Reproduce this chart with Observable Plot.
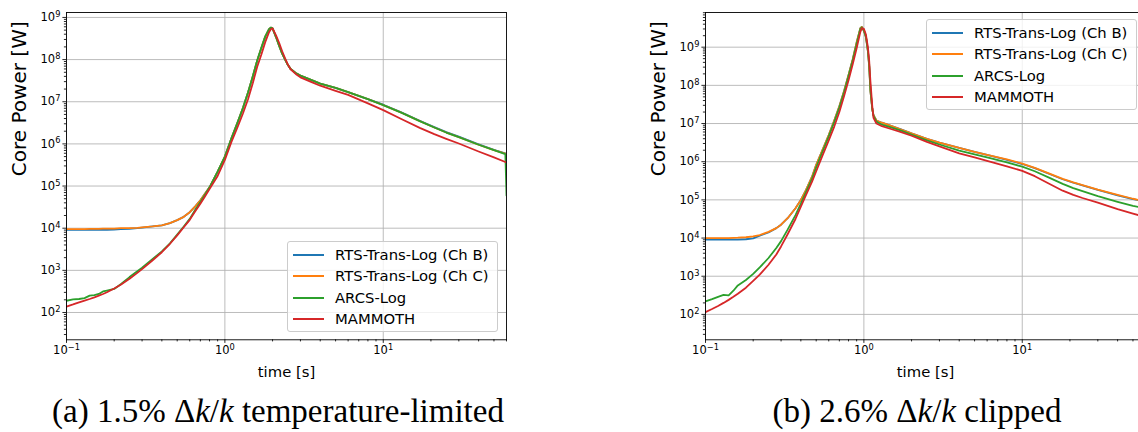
<!DOCTYPE html>
<html>
<head>
<meta charset="utf-8">
<script src="https://cdn.jsdelivr.net/npm/d3@7"></script>
<script src="https://cdn.jsdelivr.net/npm/@observablehq/plot@0.6"></script>
<style>
html, body { margin: 0; padding: 0; background: #fff; overflow: hidden; }
#wrap { position: relative; width: 1138px; height: 432px; overflow: hidden; background: #fff; }
.panel { position: absolute; top: 0; }
.panel svg { max-width: none !important; display: block; }
.legend { position: absolute; box-sizing: border-box; border: 1px solid #cccccc; border-radius: 3px;
  background: rgba(255,255,255,0.8); font-family: "DejaVu Sans"; font-size: 14.8px; color: #000; }
.legend .row { position: absolute; left: 0; height: 0; }
.legend .ln { position: absolute; left: 5px; width: 31px; height: 2px; top: -1px; }
.legend .tx { position: absolute; left: 47px; top: -9px; white-space: nowrap; line-height: 18px; }
.cap { position: absolute; font-family: "Liberation Serif"; font-size: 33px; white-space: nowrap;
  line-height: 40px; transform: translateX(-50%); color: #000; }
.cap i { font-style: italic; }
</style>
</head>
<body>
<div id="wrap"></div>
<script>
// ---------------- data ----------------
const seriesNames = ["RTS-Trans-Log (Ch B)", "RTS-Trans-Log (Ch C)", "ARCS-Log", "MAMMOTH"];
const seriesColors = ["#1f77b4", "#ff7f0e", "#2ca02c", "#d62728"];

// Panel (a): 1.5% dk/k temperature-limited
const timeA = [0.1, 0.11, 0.12, 0.13, 0.14, 0.15, 0.16, 0.17, 0.18, 0.2,
  0.22, 0.25, 0.28, 0.3, 0.35, 0.4, 0.45, 0.5, 0.55, 0.6,
  0.65, 0.7, 0.75, 0.8, 0.9, 1.0, 1.1, 1.2, 1.3, 1.4,
  1.5, 1.6, 1.7, 1.8, 1.9, 1.95, 2.0, 2.1, 2.2, 2.3,
  2.4, 2.5, 2.6, 2.8, 3.0, 3.5, 4, 5, 6, 8,
  10, 13, 17, 21, 25, 30, 40, 50, 59, 60];
const rtsChB_A = [9120, 9120, 9120, 9120, 9120, 9120, 9120, 9120, 9120, 9300,
  9500, 9700, 1.0e4, 1.03e4, 1.1e4, 1.17e4, 1.32e4, 1.55e4, 1.86e4, 2.4e4,
  3.31e4, 4.57e4, 6.61e4, 9.33e4, 2.19e5, 5.01e5, 1.35e6, 3.16e6, 7.08e6, 1.66e7,
  3.98e7, 9.55e7, 1.91e8, 3.55e8, 5.25e8, 5.75e8, 5.5e8, 3.47e8, 2.14e8, 1.38e8,
  1.0e8, 7.41e7, 6.03e7, 4.79e7, 4.17e7, 3.31e7, 2.69e7, 2.14e7, 1.7e7, 1.15e7,
  8.5e6, 5.6e6, 3.55e6, 2.5e6, 1.9e6, 1.48e6, 9.8e5, 7.25e5, 6.0e5, 5.9e5];
const rtsChC_A = [9550, 9550, 9550, 9550, 9660, 9660, 9660, 9770, 9770, 9770,
  1.0e4, 1.0e4, 1.02e4, 1.05e4, 1.1e4, 1.17e4, 1.32e4, 1.55e4, 1.86e4, 2.4e4,
  3.31e4, 4.57e4, 6.61e4, 9.33e4, 2.19e5, 5.01e5, 1.35e6, 3.16e6, 7.08e6, 1.66e7,
  3.98e7, 9.55e7, 1.91e8, 3.55e8, 5.25e8, 5.75e8, 5.5e8, 3.47e8, 2.14e8, 1.38e8,
  1.0e8, 7.41e7, 6.03e7, 4.79e7, 4.17e7, 3.31e7, 2.69e7, 2.14e7, 1.7e7, 1.15e7,
  8.32e6, 5.5e6, 3.47e6, 2.45e6, 1.86e6, 1.45e6, 9.55e5, 7.08e5, 5.89e5, 5.75e5];
const arcs_A = [190, 204, 209, 219, 251, 257, 275, 316, 331, 363,
  468, 692, 955, 1150, 1860, 2820, 4370, 7080, 1.1e4, 1.66e4,
  2.75e4, 4.17e4, 6.31e4, 9.33e4, 2.19e5, 5.01e5, 1.35e6, 3.16e6, 7.08e6, 1.66e7,
  3.98e7, 9.55e7, 1.91e8, 3.55e8, 5.25e8, 5.75e8, 5.5e8, 3.47e8, 2.14e8, 1.38e8,
  1.0e8, 7.41e7, 6.03e7, 4.79e7, 4.17e7, 3.31e7, 2.69e7, 2.14e7, 1.7e7, 1.15e7,
  8.32e6, 5.5e6, 3.47e6, 2.45e6, 1.86e6, 1.45e6, 9.55e5, 7.08e5, 5.75e5, 6.0e4];
const mammoth_A = [138, 155, 174, 191, 209, 229, 251, 275, 302, 372,
  457, 631, 871, 1070, 1740, 2690, 4270, 6760, 1.05e4, 1.58e4,
  2.51e4, 3.8e4, 5.75e4, 8.51e4, 1.74e5, 4.17e5, 1.12e6, 2.45e6, 5.25e6, 1.15e7,
  2.75e7, 6.76e7, 1.32e8, 2.63e8, 4.47e8, 5.25e8, 5.5e8, 3.8e8, 2.51e8, 1.58e8,
  1.07e8, 7.59e7, 5.89e7, 4.57e7, 3.8e7, 2.95e7, 2.4e7, 1.82e7, 1.45e7, 9.12e6,
  6.31e6, 3.89e6, 2.4e6, 1.7e6, 1.32e6, 1.02e6, 6.61e5, 4.79e5, 3.72e5, 3.63e5];

// Panel (b): 2.6% dk/k clipped
const timeB = [0.1, 0.11, 0.12, 0.13, 0.14, 0.15, 0.16, 0.18, 0.2, 0.22,
  0.25, 0.28, 0.3, 0.33, 0.37, 0.4, 0.43, 0.47, 0.5, 0.55,
  0.6, 0.65, 0.7, 0.75, 0.8, 0.85, 0.9, 0.95, 0.97, 1.0,
  1.03, 1.06, 1.08, 1.1, 1.13, 1.15, 1.2, 1.3, 1.5, 1.7,
  2, 2.5, 3, 4, 5, 6, 8, 10, 12, 15,
  18, 21, 24, 30, 40, 50, 60];
const rtsChB_B = [9120, 9120, 9120, 9120, 9120, 9120, 9120, 9300, 9800, 1.15e4,
  1.4e4, 1.82e4, 2.24e4, 3.31e4, 6.03e4, 1.0e5, 1.78e5, 3.98e5, 8.32e5, 2.09e6,
  5.01e6, 1.2e7, 2.82e7, 7.08e7, 1.86e8, 4.79e8, 1.32e9, 3.16e9, 3.39e9, 2.69e9,
  1.86e9, 7.94e8, 3.16e8, 7.08e7, 2.4e7, 1.66e7, 1.2e7, 1.05e7, 8.5e6, 7.1e6,
  5.5e6, 3.98e6, 3.16e6, 2.29e6, 1.82e6, 1.51e6, 1.12e6, 8.7e5, 6.8e5, 4.7e5,
  3.47e5, 2.82e5, 2.4e5, 1.82e5, 1.32e5, 1.05e5, 8.9e4];
const rtsChC_B = [1.0e4, 1.0e4, 1.0e4, 1.0e4, 1.0e4, 1.01e4, 1.02e4, 1.05e4, 1.1e4, 1.2e4,
  1.45e4, 1.82e4, 2.24e4, 3.31e4, 6.03e4, 1.0e5, 1.78e5, 3.98e5, 8.32e5, 2.09e6,
  5.01e6, 1.2e7, 2.82e7, 7.08e7, 1.86e8, 4.79e8, 1.32e9, 3.16e9, 3.39e9, 2.69e9,
  1.86e9, 7.94e8, 3.16e8, 7.08e7, 2.4e7, 1.66e7, 1.2e7, 1.05e7, 8.51e6, 7.08e6,
  5.5e6, 3.98e6, 3.16e6, 2.29e6, 1.82e6, 1.51e6, 1.15e6, 8.91e5, 6.92e5, 4.79e5,
  3.55e5, 2.88e5, 2.45e5, 1.86e5, 1.35e5, 1.07e5, 9.12e4];
const arcs_B = [219, 251, 288, 324, 316, 417, 575, 794, 1150, 1700,
  3000, 5500, 8300, 1.66e4, 4.0e4, 7.94e4, 1.58e5, 3.55e5, 7.08e5, 1.91e6,
  4.57e6, 1.1e7, 2.63e7, 6.61e7, 1.74e8, 4.47e8, 1.2e9, 3.02e9, 3.31e9, 2.75e9,
  1.91e9, 8.32e8, 3.55e8, 7.94e7, 2.4e7, 1.58e7, 1.12e7, 9.33e6, 7.76e6, 6.61e6,
  5.13e6, 3.63e6, 2.82e6, 1.95e6, 1.55e6, 1.29e6, 9.55e5, 7.41e5, 5.62e5, 3.72e5,
  2.63e5, 2.04e5, 1.7e5, 1.26e5, 8.91e4, 6.92e4, 6.03e4];
const mammoth_B = [115, 138, 166, 200, 240, 288, 347, 501, 759, 1100,
  2000, 3720, 6030, 1.26e4, 3.16e4, 6.61e4, 1.32e5, 2.95e5, 5.62e5, 1.51e6,
  3.63e6, 8.32e6, 2.0e7, 5.25e7, 1.35e8, 3.55e8, 9.33e8, 2.51e9, 3.16e9, 3.02e9,
  2.14e9, 1.0e9, 4.47e8, 1.26e8, 2.82e7, 1.41e7, 1.0e7, 8.51e6, 7.08e6, 6.03e6,
  4.79e6, 3.31e6, 2.51e6, 1.66e6, 1.29e6, 1.05e6, 7.59e5, 5.75e5, 4.17e5, 2.57e5,
  1.74e5, 1.35e5, 1.12e5, 8.51e4, 5.75e4, 4.37e4, 3.55e4];

// ticks
const xMajorTicks = [0.1, 1, 10];
const xMinorTicks = [0.2, 0.3, 0.4, 0.5, 0.6, 0.7, 0.8, 0.9, 2, 3, 4, 5, 6, 7, 8, 9, 20, 30, 40, 50, 60];
const yMajorTicksA = [1e2, 1e3, 1e4, 1e5, 1e6, 1e7, 1e8, 1e9];
const yMajorTicksB = [1e2, 1e3, 1e4, 1e5, 1e6, 1e7, 1e8, 1e9];
const minorMultipliers = [2, 3, 4, 5, 6, 7, 8, 9];

const captionA = "(a) 1.5% Δ<i>k</i>/<i>k</i> temperature-limited";
const captionB = "(b) 2.6% Δ<i>k</i>/<i>k</i> clipped";
const xLabel = "time [s]";
const yLabel = "Core Power [W]";

// ---------------- helpers ----------------
const pow10Label = v => "10^" + String(Math.round(Math.log10(v))).replace("-", "−");

function minorTicks(domain) {
  const out = [];
  for (let e = Math.floor(Math.log10(domain[0])); e <= Math.ceil(Math.log10(domain[1])); e++) {
    for (const m of minorMultipliers) {
      const v = m * Math.pow(10, e);
      if (v >= domain[0] && v <= domain[1]) out.push(v);
    }
  }
  return out;
}

function rowsFor(time, arrays) {
  return arrays.flatMap((arr, i) => arr.map((P, k) => ({t: time[k], P, s: seriesNames[i]})));
}

// turn "10^n" tick labels into 10 with a superscript tspan
function superscriptTicks(svg) {
  const ns = "http://www.w3.org/2000/svg";
  svg.querySelectorAll("text").forEach(t => {
    const s = t.textContent;
    const m = /^10\^(.+)$/.exec(s);
    if (!m) return;
    t.textContent = "10";
    const sp = document.createElementNS(ns, "tspan");
    sp.setAttribute("font-size", "0.72em");
    sp.setAttribute("dy", "-0.5em");
    sp.textContent = m[1];
    t.appendChild(sp);
  });
}

function panel({time, arrays, yDomain, yMajor, width, marginLeft, marginRight}) {
  const grid = {stroke: "#b0b0b0", strokeOpacity: 1, strokeWidth: 0.85};
  const tickStyle = {stroke: "#000", strokeWidth: 0.85};
  const svg = Plot.plot({
    width, height: 390,
    marginLeft, marginRight, marginTop: 12, marginBottom: 50.7,
    style: {fontFamily: "DejaVu Sans", fontSize: "11.5px", color: "#000", background: "transparent"},
    x: {type: "log", domain: [0.1, 60]},
    y: {type: "log", domain: yDomain},
    color: {domain: seriesNames, range: seriesColors},
    marks: [
      Plot.gridX(xMajorTicks, grid),
      Plot.gridY(yMajor, grid),
      Plot.line(rowsFor(time, arrays), {x: "t", y: "P", z: "s", stroke: "s", strokeWidth: 1.8, clip: true}),
      Plot.frame({stroke: "#000", strokeWidth: 0.9}),
      Plot.axisX(xMajorTicks, {tickFormat: pow10Label, tickSize: 3.6, tickPadding: 2.5, label: null, ...tickStyle}),
      Plot.axisX(xMinorTicks, {tickFormat: () => "", tickSize: 2.1, label: null, ...tickStyle}),
      Plot.axisY(yMajor, {tickFormat: pow10Label, tickSize: 3.6, tickPadding: 2.5, label: null, ...tickStyle}),
      Plot.axisY(minorTicks(yDomain), {tickFormat: () => "", tickSize: 2.1, label: null, ...tickStyle}),
      Plot.text([xLabel], {frameAnchor: "bottom", dy: 37, fontSize: 14.8, text: d => d, fill: "#000"}),
      Plot.text([yLabel], {frameAnchor: "left", dx: -47, rotate: -90, fontSize: 20, text: d => d, fill: "#000"})
    ]
  });
  superscriptTicks(svg);
  return svg;
}

function legend(left, top) {
  const div = document.createElement("div");
  div.className = "legend";
  Object.assign(div.style, {left: left + "px", top: top + "px", width: "211px", height: "91px"});
  seriesNames.forEach((name, i) => {
    const row = document.createElement("div");
    row.className = "row";
    row.style.top = Math.round(13 + i * 21.3) + "px";
    const ln = document.createElement("div");
    ln.className = "ln";
    ln.style.background = seriesColors[i];
    const tx = document.createElement("div");
    tx.className = "tx";
    tx.textContent = name;
    row.append(ln, tx);
    div.append(row);
  });
  return div;
}

function caption(html, cx) {
  const d = document.createElement("div");
  d.className = "cap";
  d.innerHTML = html;
  d.style.left = cx + "px";
  d.style.top = "391px";
  return d;
}

// ---------------- build ----------------
const wrap = document.getElementById("wrap");

const pA = document.createElement("div");
pA.className = "panel";
pA.style.left = "0px";
pA.style.width = "569px";
pA.append(panel({
  time: timeA, arrays: [rtsChB_A, rtsChC_A, arcs_A, mammoth_A],
  yDomain: [22.5, 1.31e9], yMajor: yMajorTicksA,
  width: 569, marginLeft: 66, marginRight: 63
}));
wrap.append(pA);

const pB = document.createElement("div");
pB.className = "panel";
pB.style.left = "569px";
pB.style.width = "586px";
pB.append(panel({
  time: timeB, arrays: [rtsChB_B, rtsChC_B, arcs_B, mammoth_B],
  yDomain: [21.6, 8.1e9], yMajor: yMajorTicksB,
  width: 586, marginLeft: 136, marginRight: 10
}));
wrap.append(pB);

wrap.append(legend(287, 241));
wrap.append(legend(926, 19));
wrap.append(caption(captionA, 278));
wrap.append(caption(captionB, 917));
</script>
</body>
</html>
